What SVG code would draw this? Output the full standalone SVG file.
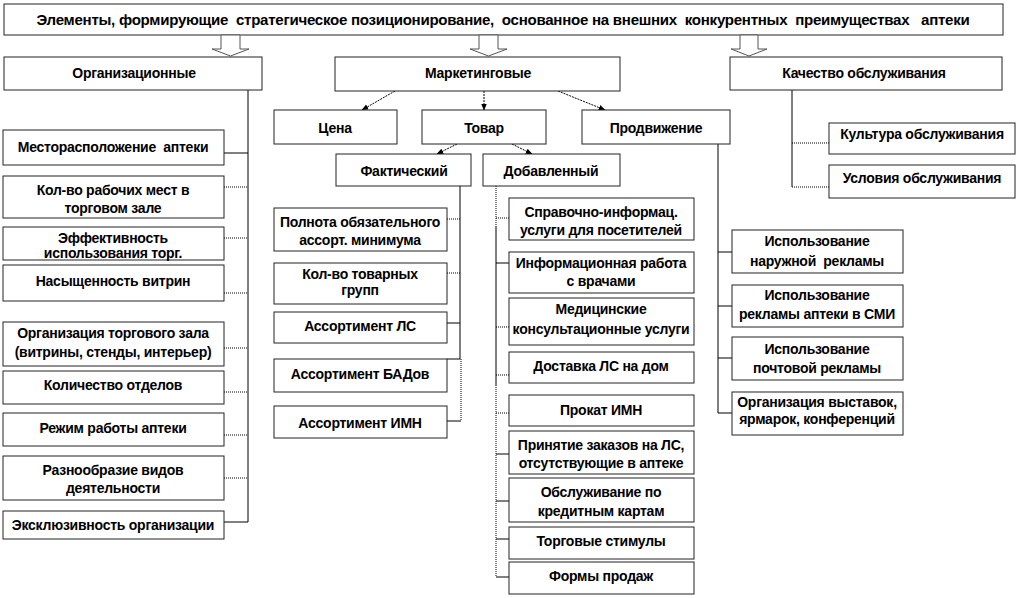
<svg xmlns="http://www.w3.org/2000/svg" width="1018" height="598" viewBox="0 0 1018 598">
<defs>
<style>
.b{fill:#fff;stroke:#222;stroke-width:1}
.t{font-family:"Liberation Sans",Arial,sans-serif;font-size:14px;font-weight:bold;text-anchor:middle;fill:#000;letter-spacing:-0.25px}
.s{stroke:#000;stroke-width:1;fill:none}
.d{stroke:#000;stroke-width:1;fill:none;stroke-dasharray:1 1}
.a{stroke:#000;stroke-width:1;fill:none;stroke-dasharray:2 1}
.ba{fill:#fff;stroke:#555;stroke-width:1}
</style>
<marker id="ah" viewBox="0 0 10 10" refX="9" refY="5" markerWidth="7" markerHeight="7" orient="auto">
<path d="M0,1 L10,5 L0,9 z" fill="#000"/>
</marker>
</defs>
<rect width="1018" height="598" fill="#fff"/>

<g id="title">
<rect class="b" x="4" y="4" width="999" height="31"/>
<text class="t" x="503" y="25" font-size="14" textLength="933" lengthAdjust="spacingAndGlyphs" style="white-space:pre">Элементы, формирующие  стратегическое позиционирование,  основанное на внешних  конкурентных  преимуществах   аптеки</text>
</g>

<g id="block-arrows">
<polygon class="ba" points="221,35 240,35 240,49 249,49 230.5,56 212,49 221,49"/>
<polygon class="ba" points="479,35 498,35 498,49 507,49 488.5,56 470,49 479,49"/>
<polygon class="ba" points="740,35 758,35 758,49 767,49 749,56 731,49 740,49"/>
</g>

<g id="connectors">
<line class="a" x1="395" y1="91" x2="362" y2="110" marker-end="url(#ah)"/>
<line class="a" x1="484" y1="91" x2="484" y2="110" marker-end="url(#ah)"/>
<line class="a" x1="558" y1="91" x2="605" y2="110" marker-end="url(#ah)"/>
<line class="a" x1="457" y1="144" x2="437" y2="154" marker-end="url(#ah)"/>
<line class="a" x1="512" y1="144" x2="532" y2="154" marker-end="url(#ah)"/>
<line class="s" x1="248" y1="90" x2="248" y2="522"/>
<line class="s" x1="224" y1="153" x2="248" y2="153"/>
<line class="d" x1="224" y1="187" x2="248" y2="187"/>
<line class="d" x1="224" y1="238" x2="248" y2="238"/>
<line class="d" x1="224" y1="293" x2="248" y2="293"/>
<line class="d" x1="224" y1="348" x2="248" y2="348"/>
<line class="d" x1="224" y1="392" x2="248" y2="392"/>
<line class="d" x1="224" y1="435" x2="248" y2="435"/>
<line class="d" x1="224" y1="478" x2="248" y2="478"/>
<line class="s" x1="224" y1="522" x2="248" y2="522"/>
<line class="s" x1="460" y1="186" x2="460" y2="359"/>
<line class="d" x1="447" y1="219" x2="460" y2="219"/>
<line class="d" x1="447" y1="273" x2="460" y2="273"/>
<line class="s" x1="447" y1="323" x2="460" y2="323"/>
<line class="s" x1="447" y1="359" x2="460" y2="359"/>
<line class="d" x1="461" y1="359" x2="461" y2="421"/>
<line class="s" x1="447" y1="421" x2="461" y2="421"/>
<line class="d" x1="496" y1="186" x2="496" y2="227"/>
<line class="s" x1="496" y1="227" x2="496" y2="385"/>
<line class="d" x1="496" y1="385" x2="496" y2="577"/>
<line class="d" x1="496" y1="218" x2="509" y2="218"/>
<line class="s" x1="496" y1="263" x2="509" y2="263"/>
<line class="d" x1="496" y1="327" x2="509" y2="327"/>
<line class="d" x1="496" y1="375" x2="509" y2="375"/>
<line class="d" x1="496" y1="413" x2="509" y2="413"/>
<line class="s" x1="496" y1="454" x2="509" y2="454"/>
<line class="s" x1="496" y1="501" x2="509" y2="501"/>
<line class="s" x1="496" y1="539" x2="509" y2="539"/>
<line class="s" x1="496" y1="577" x2="509" y2="577"/>
<line class="s" x1="718" y1="144" x2="718" y2="413"/>
<line class="s" x1="718" y1="252" x2="732" y2="252"/>
<line class="s" x1="718" y1="306" x2="732" y2="306"/>
<line class="s" x1="718" y1="358" x2="732" y2="358"/>
<line class="s" x1="718" y1="413" x2="732" y2="413"/>
<line class="s" x1="792" y1="90" x2="792" y2="187"/>
<line class="d" x1="792" y1="143" x2="829" y2="143"/>
<line class="d" x1="792" y1="187" x2="829" y2="187"/>
</g>

<g id="n-org"><rect class="b" x="4" y="57" width="258" height="33"/><text class="t" x="134" y="78">Организационные</text></g>
<g id="n-mkt"><rect class="b" x="335" y="57" width="285" height="34"/><text class="t" x="478" y="78">Маркетинговые</text></g>
<g id="n-qual"><rect class="b" x="730" y="57" width="272" height="33"/><text class="t" x="864" y="78">Качество обслуживания</text></g>

<g id="n-price"><rect class="b" x="274" y="110" width="123" height="34"/><text class="t" x="335" y="133">Цена</text></g>
<g id="n-goods"><rect class="b" x="422" y="110" width="124" height="34"/><text class="t" x="484" y="133">Товар</text></g>
<g id="n-promo"><rect class="b" x="582" y="110" width="148" height="34"/><text class="t" x="656" y="133">Продвижение</text></g>
<g id="n-fact"><rect class="b" x="336" y="154" width="135" height="32"/><text class="t" x="404" y="176">Фактический</text></g>
<g id="n-add"><rect class="b" x="483" y="154" width="137" height="32"/><text class="t" x="551" y="176">Добавленный</text></g>

<g id="o1"><rect class="b" x="3" y="130" width="221" height="35"/><text class="t" x="113" y="152" style="white-space:pre">Месторасположение  аптеки</text></g>
<g id="o2"><rect class="b" x="3" y="176" width="221" height="42"/><text class="t" x="113" y="195">Кол-во рабочих мест в</text><text class="t" x="113" y="213">торговом зале</text></g>
<g id="o3"><rect class="b" x="3" y="227" width="221" height="33"/><text class="t" x="113" y="243">Эффективность</text><text class="t" x="113" y="258">использования торг.</text></g>
<g id="o4"><rect class="b" x="3" y="265" width="221" height="36"/><text class="t" x="113" y="286">Насыщенность витрин</text></g>
<g id="o5"><rect class="b" x="3" y="322" width="221" height="44"/><text class="t" x="113" y="338">Организация торгового зала</text><text class="t" x="113" y="357">(витрины, стенды, интерьер)</text></g>
<g id="o6"><rect class="b" x="3" y="371" width="221" height="33"/><text class="t" x="113" y="390">Количество отделов</text></g>
<g id="o7"><rect class="b" x="3" y="413" width="221" height="33"/><text class="t" x="113" y="433">Режим работы аптеки</text></g>
<g id="o8"><rect class="b" x="3" y="456" width="221" height="44"/><text class="t" x="113" y="475">Разнообразие видов</text><text class="t" x="113" y="493">деятельности</text></g>
<g id="o9"><rect class="b" x="3" y="511" width="221" height="28"/><text class="t" x="113" y="530">Эксклюзивность организации</text></g>

<g id="f1"><rect class="b" x="274" y="208" width="173" height="43"/><text class="t" x="360" y="227">Полнота обязательного</text><text class="t" x="360" y="245">ассорт. минимума</text></g>
<g id="f2"><rect class="b" x="274" y="263" width="173" height="41"/><text class="t" x="360" y="279">Кол-во товарных</text><text class="t" x="360" y="295">групп</text></g>
<g id="f3"><rect class="b" x="274" y="312" width="173" height="31"/><text class="t" x="360" y="331">Ассортимент ЛС</text></g>
<g id="f4"><rect class="b" x="274" y="359" width="173" height="33"/><text class="t" x="360" y="379">Ассортимент БАДов</text></g>
<g id="f5"><rect class="b" x="274" y="406" width="173" height="32"/><text class="t" x="360" y="428">Ассортимент ИМН</text></g>

<g id="a1"><rect class="b" x="509" y="198" width="185" height="42"/><text class="t" x="601" y="217">Справочно-информац.</text><text class="t" x="601" y="235">услуги для посетителей</text></g>
<g id="a2"><rect class="b" x="509" y="252" width="185" height="41"/><text class="t" x="601" y="268">Информационная работа</text><text class="t" x="601" y="286">с врачами</text></g>
<g id="a3"><rect class="b" x="509" y="298" width="185" height="47"/><text class="t" x="601" y="314">Медицинские</text><text class="t" x="601" y="334">консультационные услуги</text></g>
<g id="a4"><rect class="b" x="509" y="352" width="185" height="31"/><text class="t" x="601" y="371">Доставка ЛС на дом</text></g>
<g id="a5"><rect class="b" x="509" y="395" width="185" height="31"/><text class="t" x="601" y="415">Прокат ИМН</text></g>
<g id="a6"><rect class="b" x="509" y="431" width="185" height="43"/><text class="t" x="601" y="450">Принятие заказов на ЛС,</text><text class="t" x="601" y="468">отсутствующие в аптеке</text></g>
<g id="a7"><rect class="b" x="509" y="478" width="185" height="44"/><text class="t" x="601" y="497">Обслуживание по</text><text class="t" x="601" y="516">кредитным картам</text></g>
<g id="a8"><rect class="b" x="509" y="527" width="185" height="32"/><text class="t" x="601" y="546">Торговые стимулы</text></g>
<g id="a9"><rect class="b" x="509" y="562" width="185" height="32"/><text class="t" x="601" y="581">Формы продаж</text></g>

<g id="p1"><rect class="b" x="732" y="230" width="171" height="43"/><text class="t" x="817" y="246">Использование</text><text class="t" x="817" y="266" style="white-space:pre">наружной  рекламы</text></g>
<g id="p2"><rect class="b" x="732" y="285" width="171" height="42"/><text class="t" x="817" y="300">Использование</text><text class="t" x="817" y="319">рекламы аптеки в СМИ</text></g>
<g id="p3"><rect class="b" x="732" y="337" width="171" height="43"/><text class="t" x="817" y="354">Использование</text><text class="t" x="817" y="373">почтовой рекламы</text></g>
<g id="p4"><rect class="b" x="732" y="392" width="171" height="43"/><text class="t" x="817" y="407">Организация выставок,</text><text class="t" x="817" y="424">ярмарок, конференций</text></g>

<g id="q1"><rect class="b" x="829" y="123" width="186" height="31"/><text class="t" x="922" y="139">Культура обслуживания</text></g>
<g id="q2"><rect class="b" x="829" y="165" width="186" height="33"/><text class="t" x="922" y="183">Условия обслуживания</text></g>
</svg>
